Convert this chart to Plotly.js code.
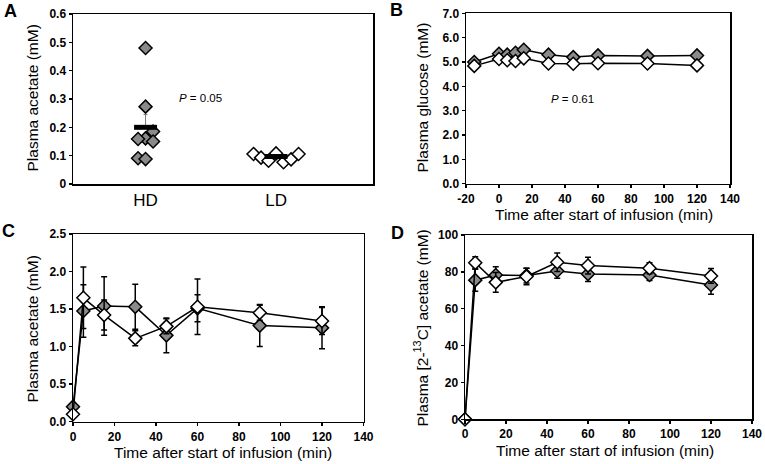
<!DOCTYPE html>
<html>
<head>
<meta charset="utf-8">
<script src="https://cdn.plot.ly/plotly-3.0.1.min.js"></script>
<style>html,body{margin:0;padding:0;background:#fff;}#chart{width:765px;height:464px;}</style>
</head>
<body>
<div id="chart"></div>
<script>
// ---------- Panel A: fasting plasma acetate ----------
const groupLabels = ['HD', 'LD'];
const hdAcetate = [0.48, 0.273, 0.185, 0.161, 0.159, 0.15, 0.091, 0.088];
const hdJitter = [0, 0, 1, 0, -1, 1, -1, 0];
const ldAcetate = [0.106, 0.093, 0.082, 0.108, 0.077, 0.087, 0.106];
const ldJitter = [-3, -2, -1, 0, 1, 2, 3];
const groupMeans = [0.2, 0.097];
const groupSemUp = [0.045, 0];

// ---------- Panel B: plasma glucose ----------
const glucoseTime = [-15, 0, 5, 10, 15, 30, 45, 60, 90, 120];
const glucoseHD = [5.0, 5.34, 5.3, 5.38, 5.5, 5.3, 5.2, 5.27, 5.25, 5.27];
const glucoseLD = [4.84, 5.12, 5.07, 5.04, 5.15, 4.94, 4.93, 4.95, 4.94, 4.86];
const glucoseTimeTicks = [-20, 0, 20, 40, 60, 80, 100, 120, 140];
const glucoseTimeTickText = ['-20', '0', '20', '40', '60', '80', '100', '120', '140'];

// ---------- Panel C: plasma acetate during infusion ----------
const acetateTime = [0, 5, 15, 30, 45, 60, 90, 120];
const acetateHD = [0.2, 1.475, 1.54, 1.53, 1.15, 1.51, 1.28, 1.25];
const acetateHDErr = [0, 0.35, 0.39, 0.30, 0.23, 0.18, 0.28, 0.28];
const acetateLD = [0.1, 1.65, 1.42, 1.11, 1.27, 1.53, 1.45, 1.34];
const acetateLDErr = [0, 0.41, 0.2, 0.1, 0.1, 0.37, 0.1, 0.18];

// ---------- Panel D: plasma [2-13C] acetate ----------
const enrichTime = [0, 5, 15, 30, 45, 60, 90, 120];
const enrichHD = [0, 75.5, 78.3, 78, 80.5, 78.8, 78.3, 72.9];
const enrichHDErr = [0, 6, 4.5, 4, 4, 4, 3, 5];
const enrichLD = [0, 84.9, 74.3, 77.5, 85.2, 83.4, 82, 77.8];
const enrichLDErr = [0, 3.3, 5.4, 4.5, 5, 4.5, 3, 4];

// ---------- styling ----------
const W = 765, H = 464;
const GRAY = '#8a8a8a';
const FONT = 'Liberation Sans, Arial, sans-serif';
const jitterStep = 0.0575;
const meanHalfWidth = 0.088;

function px(x) { return x / W; }
function py(y) { return 1 - y / H; }

const hdMarker = {symbol: 'diamond', size: 10, color: GRAY, line: {color: '#000', width: 1.5}};
const ldMarker = {symbol: 'diamond', size: 10, color: '#fff', line: {color: '#000', width: 1.5}};

function errBar(arr) {
  return {type: 'data', array: arr, visible: true, color: '#000', thickness: 1.5, width: 3};
}

const traces = [];
// Panel A points
traces.push({x: hdJitter.map(j => 1 + j * jitterStep), y: hdAcetate, xaxis: 'x', yaxis: 'y',
  mode: 'markers', marker: hdMarker, cliponaxis: false, showlegend: false, hoverinfo: 'y'});
traces.push({x: ldJitter.map(j => 2 + j * jitterStep), y: ldAcetate, xaxis: 'x', yaxis: 'y',
  mode: 'markers', marker: ldMarker, cliponaxis: false, showlegend: false, hoverinfo: 'y'});
// SEM (upper) for HD
traces.push({x: [1, 2], y: groupMeans, xaxis: 'x', yaxis: 'y', mode: 'markers',
  marker: {size: 1, color: 'rgba(0,0,0,0)'}, showlegend: false, hoverinfo: 'skip',
  error_y: {type: 'data', symmetric: false, array: groupSemUp, arrayminus: [0, 0], color: '#777', thickness: 1, width: 2}});
// mean bars
groupMeans.forEach((m, i) => {
  traces.push({x: [i + 1 - meanHalfWidth, i + 1 + meanHalfWidth], y: [m, m], xaxis: 'x', yaxis: 'y',
    mode: 'lines', line: {color: '#000', width: 5}, showlegend: false, hoverinfo: 'skip'});
});

// Panel B
traces.push({x: glucoseTime, y: glucoseHD, xaxis: 'x2', yaxis: 'y2', mode: 'lines+markers',
  line: {color: '#000', width: 1.5}, marker: hdMarker, cliponaxis: false, showlegend: false});
traces.push({x: glucoseTime, y: glucoseLD, xaxis: 'x2', yaxis: 'y2', mode: 'lines+markers',
  line: {color: '#000', width: 1.5}, marker: ldMarker, cliponaxis: false, showlegend: false});

// Panel C
traces.push({x: acetateTime, y: acetateHD, xaxis: 'x3', yaxis: 'y3', mode: 'lines+markers',
  line: {color: '#000', width: 1.5}, marker: hdMarker, error_y: errBar(acetateHDErr), cliponaxis: false, showlegend: false});
traces.push({x: acetateTime, y: acetateLD, xaxis: 'x3', yaxis: 'y3', mode: 'lines+markers',
  line: {color: '#000', width: 1.5}, marker: ldMarker, error_y: errBar(acetateLDErr), cliponaxis: false, showlegend: false});

// Panel D
traces.push({x: enrichTime, y: enrichHD, xaxis: 'x4', yaxis: 'y4', mode: 'lines+markers',
  line: {color: '#000', width: 1.5}, marker: hdMarker, error_y: errBar(enrichHDErr), cliponaxis: false, showlegend: false});
traces.push({x: enrichTime, y: enrichLD, xaxis: 'x4', yaxis: 'y4', mode: 'lines+markers',
  line: {color: '#000', width: 1.5}, marker: ldMarker, error_y: errBar(enrichLDErr), cliponaxis: false, showlegend: false});

const tickFont = {family: FONT, size: 12, color: '#000', weight: 700};
function axisBase(extra) {
  return Object.assign({
    showline: true, linecolor: '#000', linewidth: 1.5, mirror: true,
    showgrid: false, zeroline: false, ticks: 'outside', ticklen: 3, tickwidth: 1.5,
    tickcolor: '#000', tickfont: tickFont, fixedrange: true
  }, extra);
}

const layout = {
  width: W, height: H,
  margin: {l: 0, r: 0, t: 0, b: 0},
  paper_bgcolor: '#fff', plot_bgcolor: '#fff',
  font: {family: FONT, color: '#000'},
  showlegend: false,
  xaxis: axisBase({domain: [px(73), px(373)], range: [0.444, 2.743], anchor: 'y',
    tickvals: [1, 2], ticktext: groupLabels, ticks: '', ticklen: 0, ticklabelstandoff: 0,
    tickfont: {family: FONT, size: 17, color: '#000'}}),
  yaxis: axisBase({domain: [py(184), py(14)], range: [0, 0.6], dtick: 0.1, tick0: 0, anchor: 'x'}),
  xaxis2: axisBase({domain: [px(466), px(730)], range: [-20, 140], tickvals: glucoseTimeTicks,
    ticktext: glucoseTimeTickText, anchor: 'y2'}),
  yaxis2: axisBase({domain: [py(183.7), py(13.3)], range: [0, 7], dtick: 1, tickformat: '.1f', anchor: 'x2'}),
  xaxis3: axisBase({domain: [px(73), px(363.5)], range: [0, 140], dtick: 20, tick0: 0, anchor: 'y3'}),
  yaxis3: axisBase({domain: [py(421.7), py(234)], range: [0, 2.5], dtick: 0.5, tickformat: '.1f', anchor: 'x3'}),
  xaxis4: axisBase({domain: [px(465), px(752)], range: [0, 140], dtick: 20, tick0: 0, anchor: 'y4'}),
  yaxis4: axisBase({domain: [py(419.3), py(235)], range: [0, 100], dtick: 20, anchor: 'x4'}),
  annotations: []
};

function ann(text, x, y, opts) {
  layout.annotations.push(Object.assign({
    text: text, x: px(x), y: py(y), xref: 'paper', yref: 'paper',
    xanchor: 'center', yanchor: 'middle', showarrow: false,
    font: {family: FONT, size: 15.5, color: '#000'}
  }, opts || {}));
}
const titleFont = {family: FONT, size: 15.5, color: '#000'};
// panel letters
const letterFont = {family: FONT, size: 18, color: '#000', weight: 700};
ann('A', 10, 11, {font: letterFont});
ann('B', 396.5, 10, {font: letterFont});
ann('C', 8.5, 231, {font: letterFont});
ann('D', 397.5, 232.5, {font: letterFont});
// axis titles
ann('Plasma acetate (mM)', 31.5, 98, {textangle: -90, font: titleFont});
ann('Plasma glucose (mM)', 421.5, 98, {textangle: -90, font: titleFont});
ann('Plasma acetate (mM)', 31.5, 329, {textangle: -90, font: titleFont});
ann('Plasma [2-<sup>13</sup>C] acetate (mM)', 421.5, 328, {textangle: -90, font: titleFont});
ann('Time after start of infusion (min)', 604, 214, {font: titleFont});
ann('Time after start of infusion (min)', 223, 452.5, {font: titleFont});
ann('Time after start of infusion (min)', 605, 450.5, {font: titleFont});
// P values
const pFont = {family: FONT, size: 11.5, color: '#000'};
ann('<i>P</i> = 0.05', 200.5, 98.5, {font: pFont});
ann('<i>P</i> = 0.61', 572.5, 99, {font: pFont});

Plotly.newPlot('chart', traces, layout, {staticPlot: true, displayModeBar: false});
</script>
</body>
</html>
